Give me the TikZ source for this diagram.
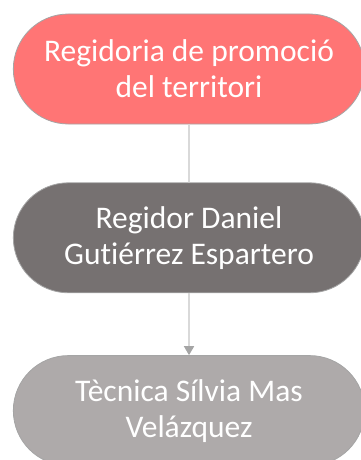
\documentclass[tikz,border=0pt]{standalone}
\usepackage{fontspec}
\setmainfont{Carlito}[Ligatures=NoCommon]
\usepackage{tikz}
\usetikzlibrary{positioning,shapes.misc,arrows.meta}

\definecolor{rosa}{HTML}{FF7575}
\definecolor{grisfosc}{HTML}{767171}
\definecolor{grisclar}{HTML}{AEAAAA}
\definecolor{vora}{HTML}{A5A5A5}
\definecolor{linia}{HTML}{D9D9D9}

\begin{document}
\begin{tikzpicture}[x=1pt,y=1pt,
		carrec/.style={rounded rectangle, draw=vora, line width=0.8pt,
			minimum width=358pt, minimum height=110pt, text=white,
			align=center, font=\fontsize{31.5}{36}\selectfont},
		enllac/.style={draw=linia, line width=1.6pt}]
		
		\useasboundingbox (0,0) rectangle (361,-460);
		\clip (0,0) rectangle (361,-460);
		
		\node[carrec, fill=rosa] (Regidoria) at (189,-69) {Regidoria de promoció\\del territori};
		\node[carrec, fill=grisfosc, below=58pt of Regidoria] (Regidor) {Regidor Daniel\\Gutiérrez Espartero};
		\node[carrec, fill=grisclar, below=62pt of Regidor] (Tecnica) {Tècnica Sílvia Mas\\Velázquez};
		
		\draw[enllac] (Regidoria) -- (Regidor);
		\draw[enllac, -{Triangle[width=10pt,length=9pt,color=vora]}] (Regidor) -- (Tecnica);
		
		\end{tikzpicture}
\end{document}
